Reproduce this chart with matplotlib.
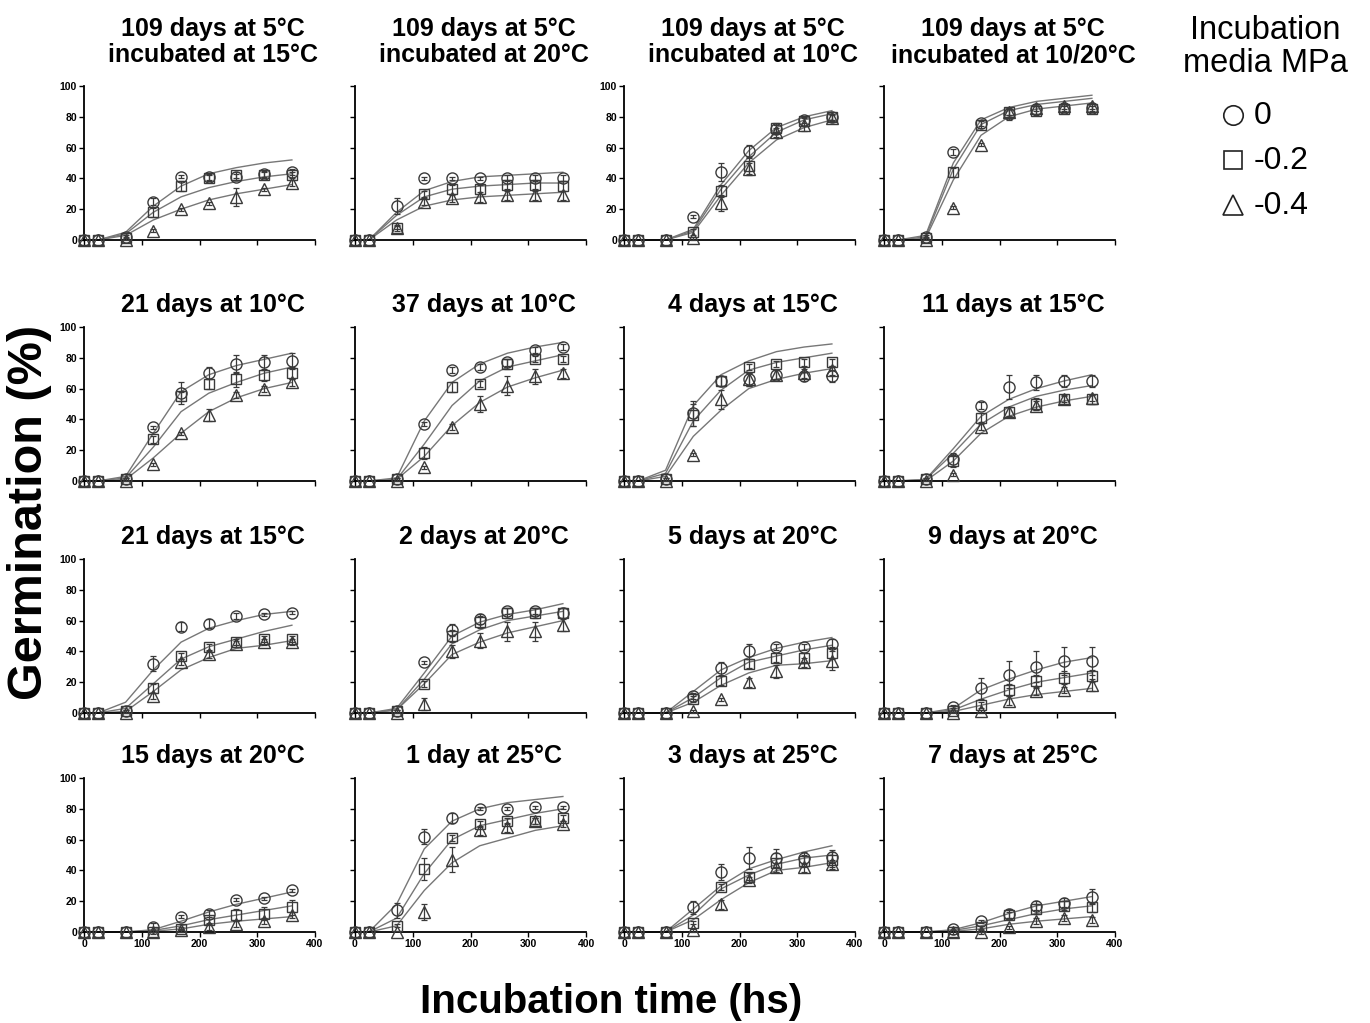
import numpy as np
import matplotlib
matplotlib.use("Agg")
import matplotlib.pyplot as plt

plt.rcParams['font.family'] = ['Liberation Sans', 'DejaVu Sans']

# sampling times (hours of incubation)
hours = [0, 24, 72, 120, 168, 216, 264, 312, 360]

titles = [
    "109 days at 5°C\nincubated at 15°C", "109 days at 5°C\nincubated at 20°C",
    "109 days at 5°C\nincubated at 10°C", "109 days at 5°C\nincubated at 10/20°C",
    "21 days at 10°C", "37 days at 10°C", "4 days at 15°C", "11 days at 15°C",
    "21 days at 15°C", "2 days at 20°C", "5 days at 20°C", "9 days at 20°C",
    "15 days at 20°C", "1 day at 25°C", "3 days at 25°C", "7 days at 25°C",
]

# mean germination (%) per panel, 0 MPa
germ_0 = [
    [0, 0, 2, 25, 41, 41, 41, 43, 44],
    [0, 0, 22, 40, 40, 40, 40, 40, 40],
    [0, 0, 0, 15, 44, 58, 72, 78, 80],
    [0, 0, 2, 57, 76, 82, 85, 86, 86],
    [0, 0, 1, 35, 57, 70, 76, 77, 78],
    [0, 0, 1, 37, 72, 74, 77, 85, 87],
    [0, 0, 1, 44, 65, 66, 69, 68, 68],
    [0, 0, 1, 14, 49, 61, 64, 65, 65],
    [0, 0, 1, 32, 56, 58, 63, 64, 65],
    [0, 0, 1, 33, 54, 61, 66, 66, 65],
    [0, 0, 0, 11, 29, 40, 43, 43, 45],
    [0, 0, 0, 4, 16, 25, 30, 34, 34],
    [0, 0, 0, 3, 10, 12, 21, 22, 27],
    [0, 0, 14, 62, 74, 80, 80, 81, 81],
    [0, 0, 0, 16, 39, 48, 48, 48, 49],
    [0, 0, 0, 2, 7, 12, 17, 19, 23],
]

# -0.2 MPa
germ_02 = [
    [0, 0, 1, 18, 35, 40, 42, 42, 42],
    [0, 0, 8, 30, 33, 33, 36, 36, 35],
    [0, 0, 0, 5, 32, 48, 73, 77, 80],
    [0, 0, 1, 44, 75, 83, 84, 85, 85],
    [0, 0, 1, 27, 55, 63, 66, 69, 70],
    [0, 0, 1, 18, 61, 63, 76, 79, 79],
    [0, 0, 1, 43, 65, 74, 76, 77, 77],
    [0, 0, 1, 13, 41, 45, 50, 53, 53],
    [0, 0, 1, 16, 37, 43, 46, 48, 48],
    [0, 0, 1, 19, 50, 59, 65, 65, 65],
    [0, 0, 0, 9, 21, 32, 36, 36, 39],
    [0, 0, 0, 1, 5, 15, 21, 23, 24],
    [0, 0, 0, 0, 2, 8, 11, 12, 16],
    [0, 0, 4, 41, 61, 70, 72, 72, 74],
    [0, 0, 0, 6, 29, 36, 45, 46, 47],
    [0, 0, 0, 0, 3, 11, 15, 17, 16],
]

# -0.4 MPa
germ_04 = [
    [0, 0, 0, 6, 20, 24, 28, 33, 37],
    [0, 0, 8, 25, 27, 28, 29, 29, 29],
    [0, 0, 0, 1, 24, 46, 70, 75, 79],
    [0, 0, 0, 21, 62, 83, 86, 87, 87],
    [0, 0, 0, 11, 31, 43, 56, 60, 64],
    [0, 0, 0, 9, 35, 50, 62, 68, 70],
    [0, 0, 0, 17, 53, 66, 69, 70, 72],
    [0, 0, 0, 4, 35, 45, 49, 53, 54],
    [0, 0, 0, 11, 33, 38, 45, 46, 46],
    [0, 0, 0, 6, 40, 47, 53, 53, 57],
    [0, 0, 0, 1, 9, 20, 27, 33, 34],
    [0, 0, 0, 0, 1, 8, 14, 15, 18],
    [0, 0, 0, 0, 1, 3, 5, 7, 11],
    [0, 0, 0, 13, 47, 66, 68, 72, 70],
    [0, 0, 0, 1, 18, 34, 42, 42, 44],
    [0, 0, 0, 0, 0, 3, 7, 9, 8],
]

# standard errors
err_0 = [
    [0, 0, 1, 2, 1, 2, 2, 2, 2], [0, 0, 5, 1, 1, 1, 2, 2, 2],
    [0, 0, 0, 1, 6, 4, 3, 2, 2], [0, 0, 1, 2, 2, 4, 3, 2, 2],
    [0, 0, 1, 1, 7, 4, 6, 5, 5], [0, 0, 1, 1, 2, 2, 2, 2, 2],
    [0, 0, 1, 8, 3, 4, 3, 3, 4], [0, 0, 1, 4, 2, 8, 5, 4, 4],
    [0, 0, 1, 5, 3, 3, 2, 1, 1], [0, 0, 1, 1, 4, 3, 2, 2, 3],
    [0, 0, 0, 2, 4, 5, 2, 2, 3], [0, 0, 0, 1, 7, 9, 10, 9, 9],
    [0, 0, 0, 3, 1, 2, 1, 1, 1], [0, 0, 5, 5, 3, 1, 1, 1, 1],
    [0, 0, 0, 4, 5, 7, 6, 4, 4], [0, 0, 0, 1, 1, 3, 3, 3, 5],
]
err_02 = [
    [0, 0, 1, 3, 3, 2, 2, 2, 2], [0, 0, 2, 2, 3, 3, 3, 3, 3],
    [0, 0, 0, 2, 4, 5, 3, 3, 2], [0, 0, 1, 3, 2, 2, 3, 2, 2],
    [0, 0, 1, 2, 3, 3, 5, 4, 4], [0, 0, 1, 4, 3, 2, 3, 2, 2],
    [0, 0, 1, 7, 3, 2, 2, 2, 2], [0, 0, 1, 4, 3, 3, 4, 3, 3],
    [0, 0, 1, 3, 2, 2, 2, 2, 2], [0, 0, 1, 2, 4, 4, 3, 3, 3],
    [0, 0, 0, 2, 3, 3, 3, 3, 4], [0, 0, 0, 1, 2, 4, 4, 4, 4],
    [0, 0, 0, 1, 1, 2, 4, 4, 5], [0, 0, 1, 7, 2, 2, 2, 2, 2],
    [0, 0, 0, 1, 2, 2, 6, 4, 5], [0, 0, 0, 1, 1, 2, 3, 3, 3],
]
err_04 = [
    [0, 0, 0, 1, 1, 1, 6, 1, 2], [0, 0, 1, 2, 2, 3, 3, 3, 3],
    [0, 0, 0, 1, 5, 4, 3, 4, 2], [0, 0, 0, 1, 1, 2, 2, 2, 2],
    [0, 0, 0, 1, 1, 4, 2, 2, 2], [0, 0, 0, 1, 2, 5, 6, 5, 3],
    [0, 0, 0, 1, 6, 4, 3, 3, 3], [0, 0, 0, 1, 2, 3, 3, 2, 2],
    [0, 0, 0, 2, 2, 2, 2, 2, 2], [0, 0, 0, 4, 4, 5, 6, 6, 4],
    [0, 0, 0, 1, 1, 3, 4, 3, 6], [0, 0, 0, 0, 1, 3, 2, 2, 4],
    [0, 0, 0, 0, 1, 2, 2, 2, 2], [0, 0, 0, 5, 8, 3, 3, 2, 2],
    [0, 0, 0, 1, 3, 2, 3, 3, 3], [0, 0, 0, 0, 1, 1, 2, 2, 2],
]

# fitted curves at the sampling times
fit_0 = [
    [0, 0, 5, 22, 35, 43, 47, 50, 52], [0, 0, 18, 32, 38, 41, 42, 43, 44],
    [0, 0, 0, 7, 36, 58, 73, 80, 84], [0, 0, 3, 50, 78, 86, 90, 92, 94],
    [0, 0, 3, 31, 58, 69, 75, 79, 83], [0, 0, 2, 39, 64, 76, 83, 87, 90],
    [0, 0, 7, 49, 69, 78, 84, 87, 89], [0, 0, 1, 21, 42, 53, 60, 65, 69],
    [0, 0, 7, 28, 46, 55, 60, 64, 66], [0, 0, 3, 26, 50, 59, 64, 67, 71],
    [0, 0, 0, 14, 28, 36, 42, 46, 49], [0, 0, 0, 3, 15, 22, 28, 33, 36],
    [0, 0, 0, 1.5, 7, 13, 18, 22, 26], [0, 0, 18, 54, 72, 80, 84, 86, 88],
    [0, 0, 0, 15, 30, 41, 47, 52, 56], [0, 0, 0, 1.5, 6, 12, 17, 20, 23],
]
fit_02 = [
    [0, 0, 4, 18, 28, 34, 38, 41, 43], [0, 0, 16, 28, 33, 35, 36, 37, 37],
    [0, 0, 0, 6, 33, 54, 70, 78, 82], [0, 0, 2, 46, 75, 84, 88, 90, 92],
    [0, 0, 2, 22, 45, 57, 64, 70, 74], [0, 0, 1, 24, 49, 65, 74, 78, 82],
    [0, 0, 5, 39, 59, 72, 77, 80, 83], [0, 0, 1, 18, 37, 48, 55, 59, 62],
    [0, 0, 3, 19, 35, 43, 48, 53, 57], [0, 0, 2, 22, 45, 54, 60, 63, 66],
    [0, 0, 0, 10, 23, 33, 37, 41, 44], [0, 0, 0, 2, 9, 15, 20, 23, 26],
    [0, 0, 0, 1, 4, 8, 11, 14, 17], [0, 0, 9, 38, 60, 69, 73, 77, 80],
    [0, 0, 0, 11, 28, 37, 44, 48, 50], [0, 0, 0, 1, 4, 8, 12, 15, 17],
]
fit_04 = [
    [0, 0, 3, 13, 20, 26, 30, 33, 36], [0, 0, 13, 22, 26, 28, 29, 30, 31],
    [0, 0, 0, 5, 29, 50, 65, 73, 78], [0, 0, 1, 39, 68, 80, 85, 87, 89],
    [0, 0, 1, 15, 31, 45, 54, 60, 64], [0, 0, 1, 16, 36, 51, 61, 67, 72],
    [0, 0, 3, 29, 46, 60, 66, 70, 73], [0, 0, 0, 13, 31, 42, 48, 52, 55],
    [0, 0, 1, 14, 28, 36, 42, 44, 47], [0, 0, 2, 19, 38, 46, 52, 56, 60],
    [0, 0, 0, 7, 18, 26, 31, 32, 34], [0, 0, 0, 1, 5, 9, 12, 14, 16],
    [0, 0, 0, 0.5, 2, 5, 7, 8.5, 10], [0, 0, 4, 27, 45, 56, 61, 66, 69],
    [0, 0, 0, 8, 21, 32, 40, 42, 45], [0, 0, 0, 0.5, 2, 5, 7, 8.5, 10],
]

levels = ["0", "-0.2", "-0.4"]
markers = ["o", "s", "^"]
means = [germ_0, germ_02, germ_04]
errs = [err_0, err_02, err_04]
fits = [fit_0, fit_02, fit_04]

W, H = 1370, 1023
fig = plt.figure(figsize=(W / 100, H / 100), dpi=100)

col_left = [84, 355, 624, 884]
row_bottom = [240, 481, 713, 932]
ax_w, ax_h = 231, 154

mark_col = "#3a3a3a"
line_col = "#777777"

for i in range(16):
    r, c = divmod(i, 4)
    ax = fig.add_axes([col_left[c] / W, 1 - row_bottom[r] / H, ax_w / W, ax_h / H])
    t = np.array(hours)
    for k in range(3):
        ax.plot(t, fits[k][i], color=line_col, lw=1.0, zorder=2, clip_on=False)
    for k in range(3):
        y = np.array(means[k][i], dtype=float)
        e = np.array(errs[k][i], dtype=float)
        has = e > 0
        ax.errorbar(t[has], y[has], yerr=e[has], fmt="none", ecolor=mark_col,
                    elinewidth=0.9, capsize=2.5, capthick=0.9, zorder=3, clip_on=False)
        ax.plot(t, y, linestyle="none", marker=markers[k], ms=8 if k != 1 else 7.5,
                mfc="none", mec=mark_col, mew=1.0, zorder=4, clip_on=False)

    ax.set_xlim(0, 400)
    ax.set_ylim(0, 100)
    ax.set_xticks([0, 100, 200, 300, 400])
    ax.set_yticks([0, 20, 40, 60, 80, 100])
    for s in ["top", "right"]:
        ax.spines[s].set_visible(False)
    for s in ["left", "bottom"]:
        ax.spines[s].set_linewidth(1.3)
    ax.tick_params(direction="out", length=3.5, width=1.0, pad=1.5,
                   labelsize=7.5)
    for lab in ax.get_xticklabels() + ax.get_yticklabels():
        lab.set_fontweight("bold")
    if c != 0 and i != 2:
        ax.set_yticklabels([])
    if r != 3:
        ax.set_xticklabels([])
    ax.set_title(titles[i], fontsize=18, fontweight="bold", x=0.56,
                 pad=17 if r == 0 else 11, linespacing=1.15)

fig.text(30 / W, 1 - 512 / H, "Germination (%)", rotation=90, ha="center",
         va="center", fontsize=35, fontweight="bold")
fig.text(611 / W, 1 - 1002 / H, "Incubation time (hs)", ha="center",
         va="center", fontsize=29, fontweight="bold")

# legend for the water potential of the incubation media
fig.text(1265 / W, 1 - 47 / H, "Incubation\nmedia MPa", ha="center",
         va="center", fontsize=23.5, linespacing=1.1)
leg_ax = fig.add_axes([0, 0, 1, 1], facecolor="none")
leg_ax.set_xlim(0, W)
leg_ax.set_ylim(H, 0)
leg_ax.axis("off")
for k, y0 in enumerate([115, 160, 205]):
    leg_ax.plot([1233], [y0], marker=markers[k], ms=14 if k != 1 else 13,
                mfc="none", mec="#222222", mew=1.2, linestyle="none")
    leg_ax.text(1254, y0 + 1, levels[k], fontsize=23, va="center", ha="left")

fig.savefig("out.png", dpi=100)
